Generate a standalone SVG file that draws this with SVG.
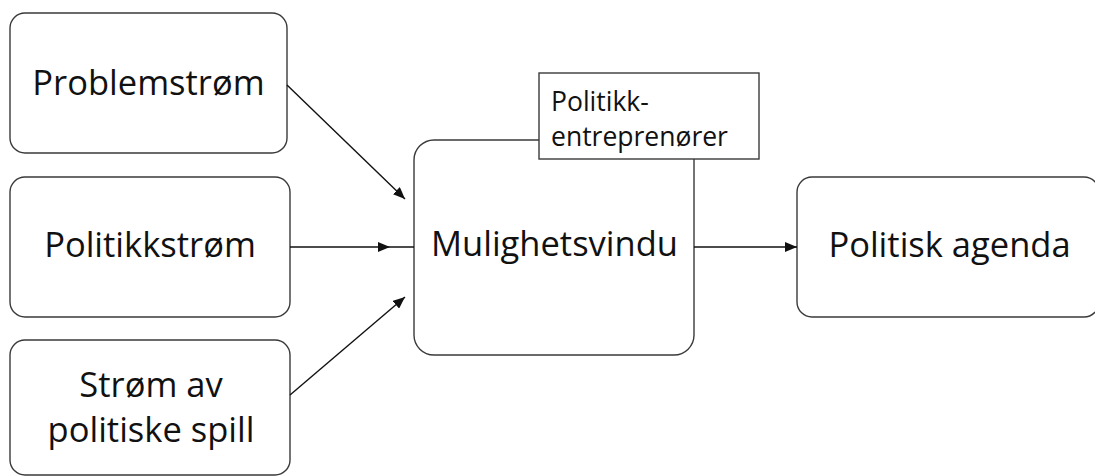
<svg xmlns="http://www.w3.org/2000/svg" width="1095" height="476" viewBox="0 0 1095 476">
  <style>
    .box { fill: #ffffff; stroke: #3a3a3a; stroke-width: 1.4; }
    .lbl { font-family: "Open Sans", "Liberation Sans", sans-serif; font-size: 34.5px; fill: #111111; text-anchor: middle; }
    .small { font-family: "Open Sans", "Liberation Sans", sans-serif; font-size: 26.5px; fill: #111111; }
    .conn { fill: none; stroke: #111111; stroke-width: 1.4; }
  </style>
  <defs>
    <marker id="arrow" viewBox="0 0 12 10" refX="12" refY="5" markerWidth="12" markerHeight="10" markerUnits="userSpaceOnUse" orient="auto">
      <path d="M0,0 L12,5 L0,10 Z" fill="#111111"/>
    </marker>
  </defs>
  <rect width="1095" height="476" fill="#ffffff"/>

  <g id="node-problemstrom">
    <rect class="box" x="10" y="13" width="277" height="140" rx="15"/>
    <text class="lbl" x="148.5" y="95">Problemstrøm</text>
  </g>
  <g id="node-politikkstrom">
    <rect class="box" x="10" y="177" width="280" height="140" rx="15"/>
    <text class="lbl" x="150" y="257">Politikkstrøm</text>
  </g>
  <g id="node-politiske-spill">
    <rect class="box" x="10" y="340" width="280" height="135" rx="15"/>
    <text class="lbl" x="151" y="397">Strøm av</text>
    <text class="lbl" x="151" y="442">politiske spill</text>
  </g>
  <g id="node-mulighetsvindu">
    <rect class="box" x="414" y="140" width="280" height="215" rx="20"/>
    <text class="lbl" x="554.5" y="256">Mulighetsvindu</text>
  </g>
  <g id="node-entreprenorer">
    <rect class="box" x="539" y="73" width="220" height="86"/>
    <text class="small" x="551" y="111">Politikk-</text>
    <text class="small" x="551" y="146">entreprenører</text>
  </g>
  <g id="node-agenda">
    <rect class="box" x="797" y="177" width="302" height="140" rx="15"/>
    <text class="lbl" x="949.5" y="257">Politisk agenda</text>
  </g>

  <g id="connectors">
    <line class="conn" x1="287" y1="85" x2="405" y2="199" marker-end="url(#arrow)"/>
    <path class="conn" d="M290,247 H390 H414" marker-mid="url(#arrow)"/>
    <line class="conn" x1="290" y1="395" x2="405" y2="297" marker-end="url(#arrow)"/>
    <line class="conn" x1="694" y1="247" x2="797" y2="247" marker-end="url(#arrow)"/>
  </g>
</svg>
